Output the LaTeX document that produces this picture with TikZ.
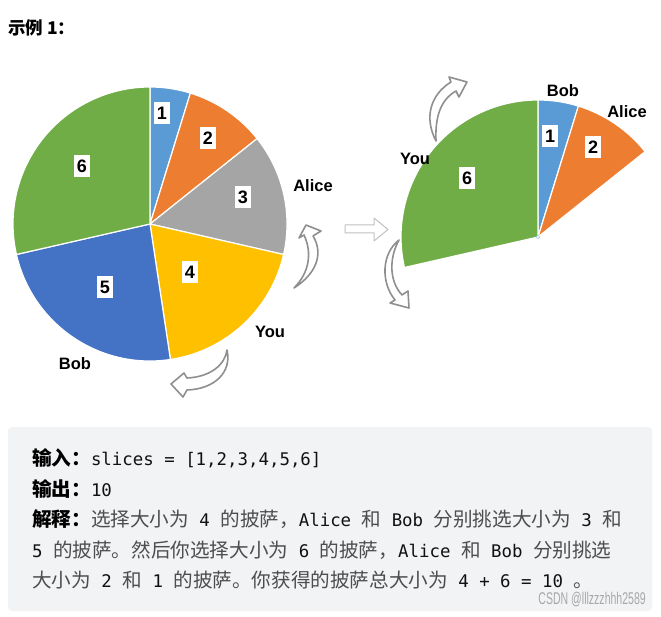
\documentclass[tikz,border=0pt]{standalone}
\usepackage{fontspec}
\setmainfont{Liberation Sans}
\setmonofont{DejaVu Sans Mono}
\newfontfamily\cjk{Noto Sans CJK SC}

\definecolor{pieblue}{HTML}{5B9BD5}
\definecolor{pieorange}{HTML}{ED7D31}
\definecolor{piegray}{HTML}{A5A5A5}
\definecolor{pieyellow}{HTML}{FFC000}
\definecolor{piedark}{HTML}{4472C4}
\definecolor{piegreen}{HTML}{70AD47}
\definecolor{arrowgray}{HTML}{8F8F8F}
\definecolor{boxgray}{HTML}{F2F3F5}
\definecolor{cjkgray}{HTML}{4D4D4D}
\definecolor{codeblack}{HTML}{111111}
\definecolor{wmgray}{HTML}{A8A8A8}

\newcommand{\code}[1]{{\color{codeblack}\ttfamily\fontsize{17.4}{24}\selectfont#1}}

\tikzset{
  numbox/.style={fill=white, inner xsep=3pt, inner ysep=0pt, minimum height=22pt,
    font=\bfseries\fontsize{18}{18}\selectfont},
  who/.style={font=\bfseries\fontsize{16.5}{16.5}\selectfont},
  bentarrow/.style={draw=arrowgray, fill=white, line width=1.6pt, line join=round},
  codeline/.style={anchor=base west, inner sep=0pt, text=cjkgray,
    font=\cjk\fontsize{19.6}{24}\selectfont},
}

\begin{document}
\begin{tikzpicture}[x=1pt, y=-1pt]
  \useasboundingbox (0,0) rectangle (661,617);

  % 标题
  \node[anchor=base west, inner sep=0pt, font=\cjk\bfseries\fontsize{17.5}{20}\selectfont]
    (title) at (8,35) {示例 1：};

  % 左边的披萨
  \begin{scope}[shift={(150,224)}]
    \foreach \a/\b/\c in {-90/-72.857/pieblue, -72.857/-38.571/pieorange,
        -38.571/12.857/piegray, 12.857/81.429/pieyellow,
        81.429/167.143/piedark, 167.143/270/piegreen}
      \filldraw[fill=\c, draw=white, line width=1.2pt] (0,0) -- (\a:137) arc (\a:\b:137) -- cycle;

    \node[numbox] (l1) at (12,-111) {1};
    \node[numbox] (l2) at (58,-86) {2};
    \node[numbox] (l3) at (93,-27) {3};
    \node[numbox] (l4) at (40,48) {4};
    \node[numbox] (l5) at (-45,63) {5};
    \node[numbox] (l6) at (-68,-58) {6};

    \node[who] (lalice) at (163,-38) {Alice};
    \node[who] (lyou) at (120,108) {You};
    \node[who] (lbob) at (-75,140) {Bob};
  \end{scope}

  % 右边的披萨
  \begin{scope}[shift={(538,237)}]
    \foreach \a/\b/\c in {-90/-72.857/pieblue, -72.857/-38.571/pieorange,
        167.143/270/piegreen}
      \filldraw[fill=\c, draw=white, line width=1.2pt] (0,0) -- (\a:137) arc (\a:\b:137) -- cycle;
    \draw[pieblue!60, fill=white, line width=0.6pt] (0,0) circle (1.8);

    \node[numbox] (r1) at (12,-101) {1};
    \node[numbox] (r2) at (55,-90) {2};
    \node[numbox] (r6) at (-71,-59) {6};

    \node[who] (rbob) at (25,-146) {Bob};
    \node[who] (ralice) at (89,-125) {Alice};
    \node[who] (ryou) at (-123,-78) {You};
  \end{scope}

  % 箭头
  \draw[bentarrow] (294,288) .. controls (316,274) and (324,254) .. (313,236)
    -- (321,231) -- (306,225) -- (299,238) -- (304,235)
    .. controls (312,252) and (310,272) .. (294,288) -- cycle;
  \draw[bentarrow] (227,350) .. controls (225,365) and (210,377) .. (187,378)
    -- (184,373) -- (171,384) -- (183,397) -- (187,390)
    .. controls (215,389) and (232,372) .. (227,350) -- cycle;
  \draw[bentarrow, draw=arrowgray!55, line width=1pt]
    (345,225) -- (374,225) -- (374,218) -- (388,229.5) -- (374,241) -- (374,233) -- (345,233) -- cycle;
  \draw[bentarrow] (399,240) .. controls (381,254) and (381,283) .. (395,300)
    -- (390,303) -- (409,308) -- (408,291) -- (402,295)
    .. controls (389,281) and (389,258) .. (399,240) -- cycle;
  \draw[bentarrow] (436,141) .. controls (424,118) and (430,95) .. (451,82)
    -- (449,77) -- (467,82) -- (459,97) -- (456,91)
    .. controls (440,100) and (435,118) .. (436,141) -- cycle;

  % 示例说明
  \fill[boxgray, rounded corners=4pt] (8,427) rectangle (652,611);
  \node[codeline] (input) at (32,465)
    {{\color{black}\bfseries 输入：}\code{slices = [1,2,3,4,5,6]}};
  \node[codeline] (output) at (32,496)
    {{\color{black}\bfseries 输出：}\code{10}};
  \node[codeline] (explain1) at (32,526)
    {{\color{black}\bfseries 解释：}选择大小为\code{\ 4\ }的披萨，\code{Alice\ }和\code{\ Bob\ }分别挑选大小为\code{\ 3\ }和};
  \node[codeline] (explain2) at (32,557)
    {\code{5\ }的披萨。然后你选择大小为\code{\ 6\ }的披萨，\code{Alice\ }和\code{\ Bob\ }分别挑选};
  \node[codeline] (explain3) at (32,587)
    {大小为\code{\ 2\ }和\code{\ 1\ }的披萨。你获得的披萨总大小为\code{\ 4 + 6 = 10\ }。};
  \node[anchor=east, inner sep=0pt, text=wmgray] (mark) at (646,600)
    {\scalebox{0.62}[1]{\fontsize{17}{17}\selectfont CSDN @lllzzzhhh2589}};
\end{tikzpicture}
\end{document}
